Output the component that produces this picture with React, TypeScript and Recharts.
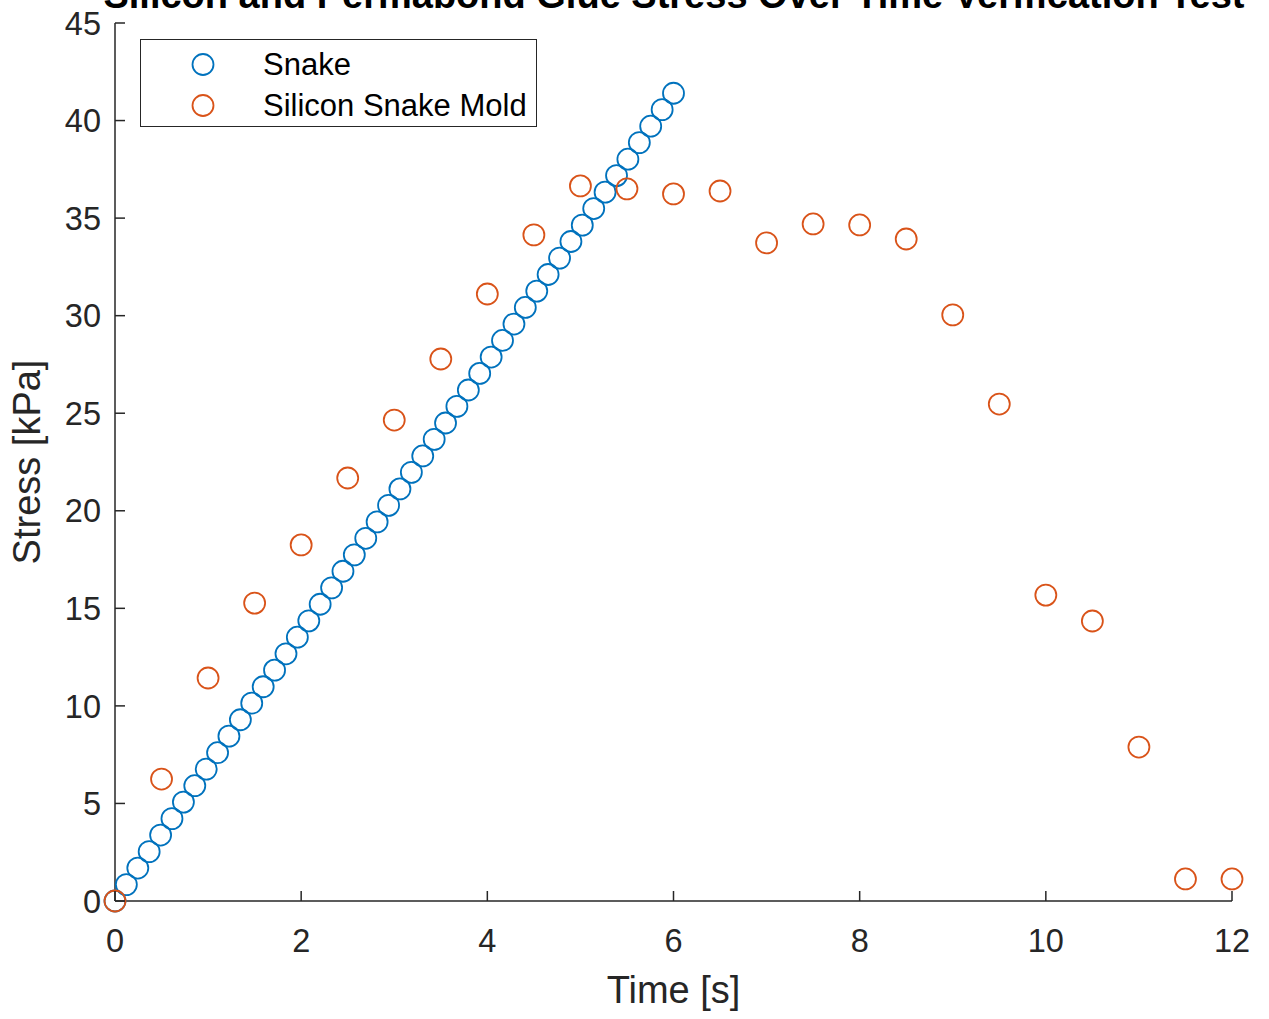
import React from 'react';
import { ScatterChart, Scatter, XAxis, YAxis, Legend } from 'recharts';

const snakeTime = [0, 0.122, 0.245, 0.367, 0.49, 0.612, 0.735, 0.857, 0.98, 1.102, 1.224, 1.347, 1.469, 1.592, 1.714, 1.837, 1.959, 2.082, 2.204, 2.327, 2.449, 2.571, 2.694, 2.816, 2.939, 3.061, 3.184, 3.306, 3.429, 3.551, 3.673, 3.796, 3.918, 4.041, 4.163, 4.286, 4.408, 4.531, 4.653, 4.776, 4.898, 5.02, 5.143, 5.265, 5.388, 5.51, 5.633, 5.755, 5.878, 6];
const snakeStress = [0, 0.84, 1.69, 2.53, 3.38, 4.22, 5.07, 5.91, 6.76, 7.6, 8.45, 9.29, 10.14, 10.98, 11.83, 12.67, 13.52, 14.36, 15.21, 16.05, 16.9, 17.74, 18.59, 19.43, 20.28, 21.12, 21.97, 22.81, 23.66, 24.5, 25.35, 26.19, 27.04, 27.88, 28.73, 29.57, 30.42, 31.26, 32.11, 32.95, 33.8, 34.64, 35.49, 36.33, 37.18, 38.02, 38.87, 39.71, 40.56, 41.4];

const moldTime = [0, 0.5, 1, 1.5, 2, 2.5, 3, 3.5, 4, 4.5, 5, 5.5, 6, 6.5, 7, 7.5, 8, 8.5, 9, 9.5, 10, 10.5, 11, 11.5, 12];
const moldStress = [0, 6.25, 11.43, 15.27, 18.25, 21.68, 24.65, 27.78, 31.11, 34.14, 36.65, 36.5, 36.24, 36.39, 33.73, 34.7, 34.65, 33.93, 30.04, 25.47, 15.68, 14.35, 7.89, 1.13, 1.13];

const xTicks = [0, 2, 4, 6, 8, 10, 12];
const yTicks = [0, 5, 10, 15, 20, 25, 30, 35, 40, 45];

const seriesNames = ['Snake', 'Silicon Snake Mold'];
const seriesColors = ['#0072BD', '#D95319'];
const titleText = 'Silicon and Permabond Glue Stress Over Time Verification Test';

const snakeData = snakeTime.map((t, i) => ({ t, s: snakeStress[i] }));
const moldData = moldTime.map((t, i) => ({ t, s: moldStress[i] }));

const FONT = '"Liberation Sans", Arial, Helvetica, sans-serif';
const AXIS = '#262626';

const makeCircle = (color: string) => (props: any) => {
  const { cx, cy } = props;
  if (cx == null || cy == null) return <g />;
  return <circle cx={cx} cy={cy} r={10.5} fill="none" stroke={color} strokeWidth={1.8} />;
};

const YTick = (props: any) => {
  const { x, y, payload } = props;
  return (
    <g>
      <line x1={x} x2={x + 10} y1={y} y2={y} stroke={AXIS} strokeWidth={1.5} />
      <text x={x - 14} y={y} dy="0.36em" textAnchor="end" fontSize={32.5} fill={AXIS} fontFamily={FONT}>
        {payload.value}
      </text>
    </g>
  );
};

const XTick = (props: any) => {
  const { x, y, payload } = props;
  return (
    <g>
      <line x1={x} x2={x} y1={y} y2={y - 10} stroke={AXIS} strokeWidth={1.5} />
      <text x={x} y={y + 51} textAnchor="middle" fontSize={32.5} fill={AXIS} fontFamily={FONT}>
        {payload.value}
      </text>
    </g>
  );
};

const XLabel = (props: any) => {
  const vb = props.viewBox || { x: 115, y: 901, width: 1117, height: 118 };
  return (
    <text x={vb.x + vb.width / 2} y={vb.y + 102} textAnchor="middle" fontSize={38} fill={AXIS} fontFamily={FONT}>
      Time [s]
    </text>
  );
};

const YLabel = (props: any) => {
  const vb = props.viewBox || { x: 0, y: 23, width: 115, height: 878 };
  const cx = vb.x + 40;
  const cy = vb.y + vb.height / 2;
  return (
    <text x={cx} y={cy} transform={`rotate(-90 ${cx} ${cy})`} textAnchor="middle" fontSize={38} fill={AXIS} fontFamily={FONT}>
      Stress [kPa]
    </text>
  );
};

const LegendBox = () => (
  <div
    style={{
      border: '1.5px solid #262626',
      background: '#fff',
      width: 397,
      height: 88,
      boxSizing: 'border-box',
      fontFamily: FONT,
      fontSize: 31,
      color: '#000',
      position: 'relative',
    }}
  >
    {seriesNames.map((name, i) => (
      <div key={name} style={{ position: 'absolute', left: 0, top: 3.5 + i * 41, height: 41, display: 'flex', alignItems: 'center' }}>
        <svg width={120} height={41} style={{ display: 'block' }}>
          <circle cx={62} cy={20.5} r={10.5} fill="none" stroke={seriesColors[i]} strokeWidth={1.8} />
        </svg>
        <span style={{ marginLeft: 2, lineHeight: '41px', whiteSpace: 'nowrap' }}>{name}</span>
      </div>
    ))}
  </div>
);

export default function App() {
  return (
    <div style={{ position: 'absolute', left: 0, top: 0, width: 1269, height: 1019, background: '#fff', overflow: 'hidden' }}>
      <svg width={1269} height={40} style={{ position: 'absolute', left: 0, top: 0, zIndex: 2 }}>
        <text x={674} y={8} textAnchor="middle" fontSize={38} fontWeight="bold" fill="#000" fontFamily={FONT}>
          {titleText}
        </text>
      </svg>
      <ScatterChart width={1269} height={1019} margin={{ top: 23, right: 37, bottom: 0, left: 0 }}>
        <XAxis
          type="number"
          dataKey="t"
          domain={[0, 12]}
          ticks={xTicks}
          interval={0}
          height={118}
          tickSize={0}
          tickMargin={0}
          tickLine={false}
          tick={<XTick />}
          axisLine={{ stroke: AXIS, strokeWidth: 1.5 }}
          label={<XLabel />}
        />
        <YAxis
          type="number"
          dataKey="s"
          domain={[0, 45]}
          ticks={yTicks}
          interval={0}
          width={115}
          tickSize={0}
          tickMargin={0}
          tickLine={false}
          tick={<YTick />}
          axisLine={{ stroke: AXIS, strokeWidth: 1.5 }}
          label={<YLabel />}
        />
        <Legend
          layout="vertical"
          align="center"
          verticalAlign="middle"
          content={<LegendBox />}
          wrapperStyle={{ left: 140, top: 39, width: 397, height: 88 }}
        />
        <Scatter name={seriesNames[0]} data={snakeData} shape={makeCircle(seriesColors[0])} isAnimationActive={false} />
        <Scatter name={seriesNames[1]} data={moldData} shape={makeCircle(seriesColors[1])} isAnimationActive={false} />
      </ScatterChart>
    </div>
  );
}
